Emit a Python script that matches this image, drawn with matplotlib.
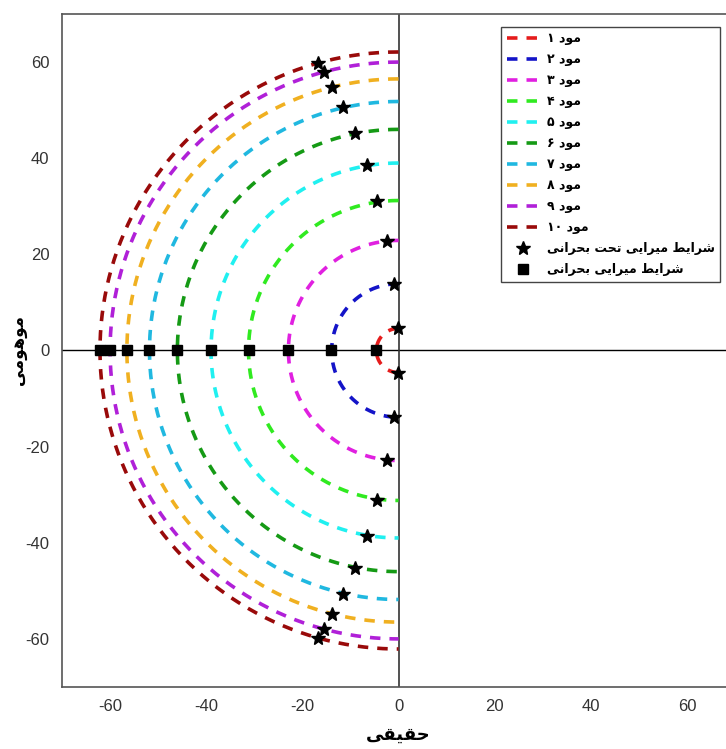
import re

import numpy as np
import matplotlib
matplotlib.use('Agg')
import matplotlib.pyplot as plt

# radii of the damping semicircles (|s| = wn) for each mode
radius = [4.6, 13.9, 22.9, 31.2, 39.0, 46.0, 51.8, 56.5, 60.0, 62.1]
# underdamped poles (upper half, lower half is the conjugate)
star_re = [-0.2, -0.9, -2.3, -4.4, -6.6, -9.1, -11.6, -13.9, -15.6, -16.7]
star_im = [4.6, 13.9, 22.8, 31.0, 38.5, 45.2, 50.6, 54.9, 58.0, 59.9]
# critically damped poles on the real axis
crit_re = [-4.7, -14.0, -23.0, -31.2, -39.0, -46.0, -51.8, -56.4, -60.0, -62.1]

colors = ['#e51c1c', '#1414c8', '#e020e0', '#30ea20', '#20f0f0',
          '#159a15', '#20b8e0', '#f0b020', '#b020d8', '#990a0a']
mode_names = ['مود ۱', 'مود ۲', 'مود ۳', 'مود ۴', 'مود ۵',
              'مود ۶', 'مود ۷', 'مود ۸', 'مود ۹', 'مود ۱۰']
star_label = 'شرایط میرایی تحت بحرانی'
square_label = 'شرایط میرایی بحرانی'
xlabel = 'حقیقی'
ylabel = 'موهومی'

# presentation forms (isolated, final, initial, medial); 2-tuples are right-joining
FORMS = {
    'ا': (0xFE8D, 0xFE8E), 'د': (0xFEA9, 0xFEAA), 'ر': (0xFEAD, 0xFEAE),
    'و': (0xFEED, 0xFEEE),
    'ب': (0xFE8F, 0xFE90, 0xFE91, 0xFE92), 'ت': (0xFE95, 0xFE96, 0xFE97, 0xFE98),
    'ح': (0xFEA1, 0xFEA2, 0xFEA3, 0xFEA4), 'ش': (0xFEB5, 0xFEB6, 0xFEB7, 0xFEB8),
    'ط': (0xFEC1, 0xFEC2, 0xFEC3, 0xFEC4), 'ق': (0xFED5, 0xFED6, 0xFED7, 0xFED8),
    'م': (0xFEE1, 0xFEE2, 0xFEE3, 0xFEE4), 'ن': (0xFEE5, 0xFEE6, 0xFEE7, 0xFEE8),
    'ه': (0xFEE9, 0xFEEA, 0xFEEB, 0xFEEC), 'ی': (0xFEEF, 0xFEF0, 0xFEF3, 0xFEF4),
}


def rtl(s):
    out = []
    for i, c in enumerate(s):
        f = FORMS.get(c)
        if f is None:
            out.append(c)
            continue
        prev = s[i - 1] if i > 0 else ''
        nxt = s[i + 1] if i + 1 < len(s) else ''
        jp = prev in FORMS and len(FORMS[prev]) == 4
        jn = len(f) == 4 and nxt in FORMS
        if jp and jn:
            k = 3
        elif jp:
            k = 1
        elif jn:
            k = 2
        else:
            k = 0
        out.append(chr(f[k]))
    v = ''.join(out)[::-1]
    return re.sub('[۰-۹]+', lambda m: m.group()[::-1], v)


def main():
    matplotlib.rc('font', family=['Liberation Sans', 'DejaVu Sans'])
    matplotlib.rc('axes', unicode_minus=False)
    fig = plt.figure(figsize=(7.26, 7.49), dpi=100)
    ax = fig.add_axes([0.0854, 0.0828, 0.927, 0.8985])

    th = np.linspace(np.pi / 2, 3 * np.pi / 2, 300)
    for r, c, name in zip(radius, colors, mode_names):
        ax.plot(r * np.cos(th), r * np.sin(th), color=c, lw=2.6,
                ls=(0, (2.9, 2.5)), label=rtl(name))

    ax.axhline(0, color='k', lw=1, zorder=1)
    ax.axvline(0, color='#333333', lw=1.2, zorder=1)

    sr = np.array(star_re)
    si = np.array(star_im)
    ax.plot(np.r_[sr, sr], np.r_[si, -si], '*', color='k', ms=10,
            ls='none', label=rtl(star_label), zorder=5)
    ax.plot(crit_re, np.zeros(len(crit_re)), 's', color='k', ms=7,
            ls='none', label=rtl(square_label), zorder=5)

    ax.set_xlim(-70, 70)
    ax.set_ylim(-70, 70)
    ax.set_xticks([-60, -40, -20, 0, 20, 40, 60])
    ax.set_yticks([-60, -40, -20, 0, 20, 40, 60])
    ax.tick_params(length=0, labelsize=12, labelcolor='#333333', pad=9)
    for s in ax.spines.values():
        s.set_color('#555555')
        s.set_linewidth(1.2)

    ax.set_xlabel(rtl(xlabel), fontsize=13, fontweight='bold',
                  family='DejaVu Sans', labelpad=8)
    ax.set_ylabel(rtl(ylabel), fontsize=12, fontweight='bold',
                  family='DejaVu Sans')
    ax.yaxis.set_label_coords(-0.052, 0.5)

    leg = ax.legend(loc='upper right', bbox_to_anchor=(0.978, 0.981),
                    borderaxespad=0, fancybox=False, edgecolor='#444444',
                    framealpha=1,
                    prop={'family': 'DejaVu Sans', 'weight': 'bold', 'size': 9},
                    handlelength=2.6, handletextpad=0.6, labelspacing=0.64,
                    borderpad=0.45)
    leg.get_frame().set_linewidth(1.0)

    fig.savefig('out.png', dpi=100)


if __name__ == '__main__':
    main()
